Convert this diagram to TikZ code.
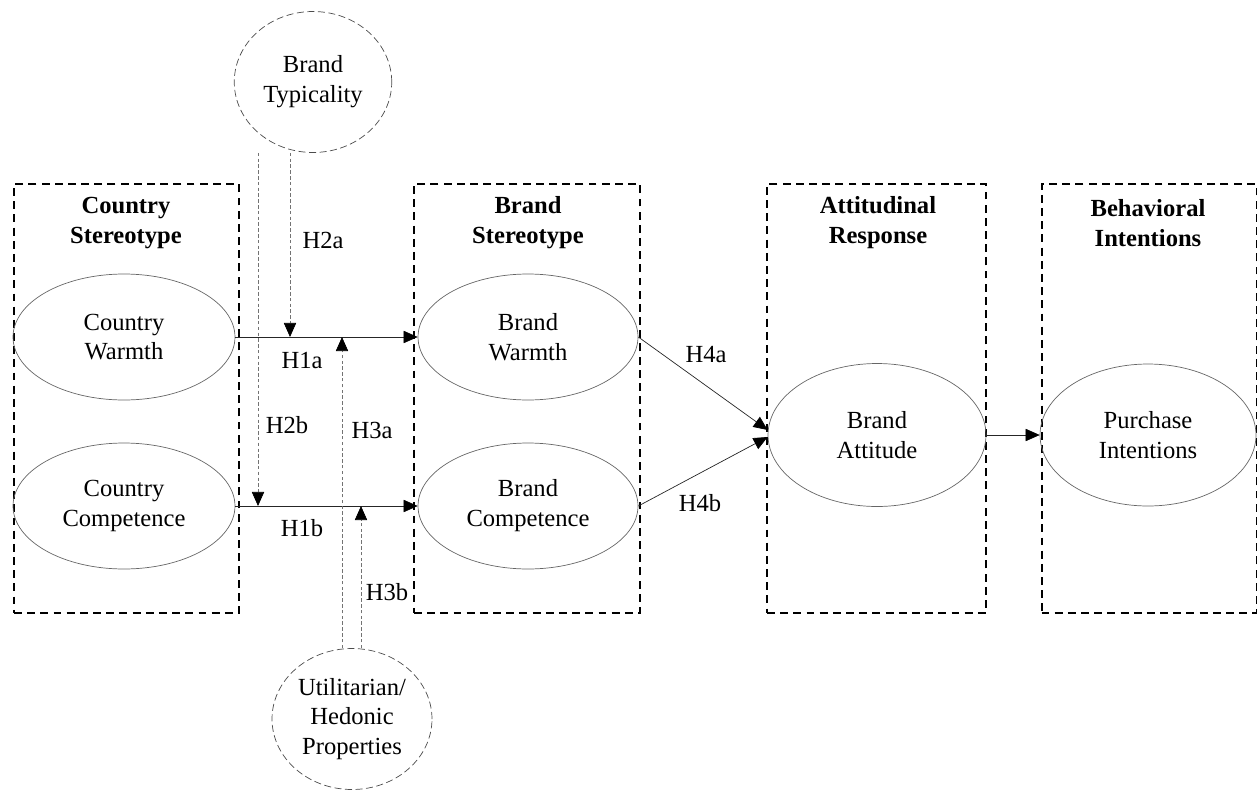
\documentclass[tikz,border=0pt]{standalone}
\usepackage{fontspec}
\setmainfont{Liberation Serif}
\usetikzlibrary{arrows.meta,positioning,shapes.geometric}

\begin{document}
\begin{tikzpicture}[
    x=0.02cm, y=-0.02cm,
    font=\fontsize{14}{17}\selectfont,
    group/.style={rectangle, draw=black, line width=1.1pt, dash pattern=on 4.5pt off 3pt, minimum height=8.58cm, inner sep=0},
    title/.style={font=\fontsize{14}{17}\selectfont\bfseries, align=center},
    construct/.style={ellipse, draw=black!60, align=center, inner sep=0, minimum width=4.44cm, minimum height=2.52cm},
    moderator/.style={ellipse, draw=black!70, dash pattern=on 4pt off 2pt, align=center, inner sep=0, minimum width=3.15cm, minimum height=2.82cm},
    link/.style={-{Triangle[length=8pt,width=7pt,color=black]}, black!85},
    modlink/.style={-{Triangle[length=8pt,width=7pt,color=black]}, black!55, dash pattern=on 2pt off 1.3pt}
]
\useasboundingbox (0,0) rectangle (1257,791);

% Groupes
\node[group, minimum width=4.5cm] (csbox) at (126.5,398.5) {};
\node[group, minimum width=4.52cm] (bsbox) at (527,398.5) {};
\node[group, minimum width=4.38cm] (arbox) at (876.5,398.5) {};
\node[group, minimum width=4.3cm] (bibox) at (1149,398.5) {};

% Titres
\node[title] (cstitle) at (126,223) {Country\\Stereotype};
\node[title] (bstitle) at (528,223) {Brand\\Stereotype};
\node[title] (artitle) at (878,223) {Attitudinal\\Response};
\node[title] (bititle) at (1148,223) {Behavioral\\Intentions};

% Construits
\node[construct] (cw) at (124,337) {Country\\Warmth};
\node[construct] (cc) at (124,506) {Country\\Competence};
\node[construct, minimum width=4.4cm] (bw) at (528,337) {Brand\\Warmth};
\node[construct, minimum width=4.4cm] (bc) at (528,506) {Brand\\Competence};
\node[construct, minimum width=4.36cm, minimum height=2.86cm] (ba) at (877,435) {Brand\\Attitude};
\node[construct, minimum width=4.32cm, minimum height=2.84cm] (pi) at (1148,435) {Purchase\\Intentions};

% Moderateurs
\node[moderator] (typ) at (313,82) {Brand\\Typicality};
\node[moderator, minimum width=3.2cm] (util) at (352,719) {Utilitarian/\\Hedonic\\Properties};

% Effets directs
\draw[link] (cw.east) -- (bw.west);
\draw[link] (cc.east) -- (bc.west);
\draw[link] (bw.east) -- ([yshift=0.1cm]ba.west);
\draw[link] (bc.east) -- ([yshift=-0.04cm]ba.west);
\draw[link] (ba.east) -- (pi.west);

% Points de moderation
\coordinate (h2a) at (290,337);
\coordinate (h2b) at (258,506);
\coordinate (h3a) at (342,337);
\coordinate (h3b) at (361,506);

\draw[modlink] (typ.south -| h2a) -- (h2a);
\draw[modlink] (typ.south -| h2b) -- (h2b);
\draw[modlink] (util.north -| h3a) -- (h3a);
\draw[modlink] (util.north -| h3b) -- (h3b);

% Hypotheses
\node (lh1a) at (302,360) {H1a};
\node (lh1b) at (302,528) {H1b};
\node (lh2a) at (323,240) {H2a};
\node (lh2b) at (287,425) {H2b};
\node (lh3a) at (372,430) {H3a};
\node (lh3b) at (387,592) {H3b};
\node (lh4a) at (706,355) {H4a};
\node (lh4b) at (700,503) {H4b};

\end{tikzpicture}
\end{document}
